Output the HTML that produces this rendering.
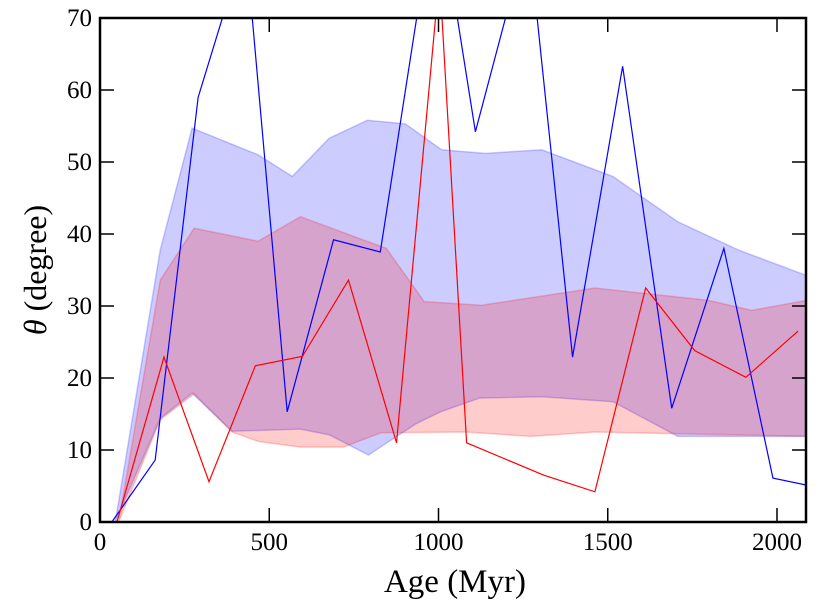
<!DOCTYPE html>
<html><head><meta charset="utf-8"><style>
html,body{margin:0;padding:0;background:#fff;}
svg{display:block;font-family:"Liberation Serif",serif;}
</style></head><body>
<svg id="chart" width="830" height="604"></svg>
<script>
const xTicks=[0,500,1000,1500,2000];
const yTicks=[0,10,20,30,40,50,60,70];
const blueX=[35,163,290,430,553,690,828,995,1109,1265,1396,1544,1689,1843,1988,2089];
const blueY=[0,8.6,59,80.5,15.3,39.2,37.5,88,54.2,81.9,22.9,63.3,15.8,38,6.1,5.1];
const redX=[50,189,322,459,598,734,876,1003,1083,1311,1462,1612,1757,1908,2062];
const redY=[0,22.9,5.6,21.7,23,33.6,11,76,11,6.5,4.2,32.5,23.8,20.1,26.5];
const blueUpX=[45,178,272,467,568,677,790,902,1009,1139,1305,1515,1707,1885,2089];
const blueUpY=[0,37.8,54.7,51,48,53.3,55.8,55.3,51.7,51.2,51.7,48,41.7,37.8,34.2];
const blueLoX=[45,178,272,390,592,677,793,932,1006,1121,1305,1515,1707,2089];
const blueLoY=[0,14.4,17.9,12.6,12.9,12.1,9.3,13.6,15.3,17.2,17.4,16.7,11.9,11.9];
const redUpX=[55,178,278,467,592,846,958,1127,1462,1796,1926,2089];
const redUpY=[0,33.6,40.8,39,42.4,38,30.6,30.1,32.5,30.8,29.4,30.8];
const redLoX=[55,178,278,390,467,592,719,831,1080,1272,1462,2089];
const redLoY=[0,14.2,17.8,12.5,11.2,10.4,10.4,12.4,12.5,11.9,12.5,11.9];

const L=100,R=806,T=18,B=522;
const xs=v=>L+v*0.3385;
const ys=v=>B-v*(B-T)/70;
const NS="http://www.w3.org/2000/svg";
const svg=document.getElementById('chart');
function mk(tag,attrs,parent){const e=document.createElementNS(NS,tag);for(const k in attrs)e.setAttribute(k,attrs[k]);(parent||svg).appendChild(e);return e;}
const defs=mk('defs',{});
const cp=mk('clipPath',{id:'clip'},defs);
mk('rect',{x:L,y:T,width:R-L,height:B-T},cp);
const g=mk('g',{'clip-path':'url(#clip)'});
function band(ux,uy,lx,ly,fill,stroke,name){
  let pts=ux.map((x,i)=>xs(x)+','+ys(uy[i]));
  for(let i=lx.length-1;i>=0;i--)pts.push(xs(lx[i])+','+ys(ly[i]));
  const p=mk('polygon',{points:pts.join(' '),fill:fill,stroke:stroke,'stroke-width':1.5},g);
  
  
}
band(blueUpX,blueUpY,blueLoX,blueLoY,'rgba(0,0,255,0.2)','rgba(0,0,255,0.2)','blue-band');
band(redUpX,redUpY,redLoX,redLoY,'rgba(255,0,0,0.2)','rgba(255,0,0,0.2)','red-band');
function line(X,Y,color,name){
  const p=mk('polyline',{points:X.map((x,i)=>xs(x)+','+ys(Y[i])).join(' '),fill:'none',stroke:color,'stroke-width':1.2},g);
  
  
}
line(blueX,blueY,'#0000ff','blue-line');
line(redX,redY,'#ff0000','red-line');
xTicks.forEach(v=>{
  const x=xs(v);
  mk('line',{x1:x,x2:x,y1:B,y2:B-14,stroke:'#000','stroke-width':1.5});
  mk('line',{x1:x,x2:x,y1:T,y2:T+14,stroke:'#000','stroke-width':1.5});
  const t=mk('text',{x:x,y:B+28,'text-anchor':'middle','font-size':25});
  t.textContent=v;
  
  
});
yTicks.forEach(v=>{
  const y=ys(v);
  mk('line',{x1:L,x2:L+14,y1:y,y2:y,stroke:'#000','stroke-width':1.5});
  mk('line',{x1:R,x2:R-14,y1:y,y2:y,stroke:'#000','stroke-width':1.5});
  const t=mk('text',{x:L-8,y:y+8,'text-anchor':'end','font-size':25});
  t.textContent=v;
  
  
});
const fr=mk('rect',{x:L,y:T,width:R-L,height:B-T,fill:'none',stroke:'#000','stroke-width':2.5});


const xl=mk('text',{x:(L+R)/2+2,y:592,'text-anchor':'middle','font-size':33});
xl.textContent='Age (Myr)';


const yl=mk('text',{x:0,y:0,'text-anchor':'middle','font-size':32,transform:'translate(46,270) rotate(-90)'});
yl.innerHTML='<tspan font-style="italic">θ</tspan> (degree)';


</script>
</body></html>
